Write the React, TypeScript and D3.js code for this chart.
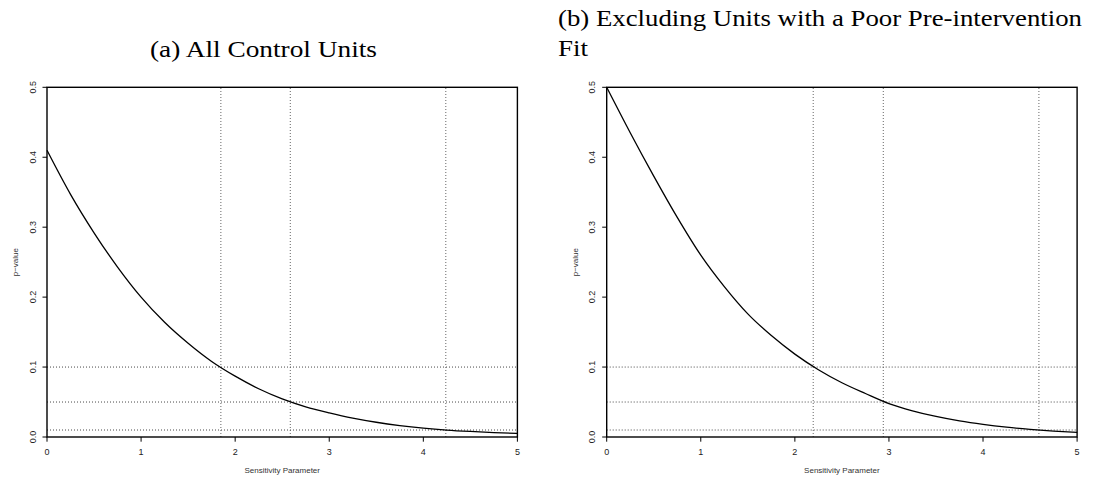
import * as d3 from "d3";

// sensitivity parameter grid
const gammaGrid = [0, 0.25, 0.5, 0.75, 1, 1.25, 1.5, 1.75, 2, 2.25, 2.5, 2.75, 3, 3.25, 3.5, 3.75, 4, 4.25, 4.5, 4.75, 5];

// (a) all control units
const pAll = [0.41, 0.347, 0.292, 0.243, 0.2, 0.164, 0.134, 0.108, 0.087, 0.069, 0.0545, 0.0432, 0.0345, 0.027, 0.0211, 0.0164, 0.0127, 0.0099, 0.0079, 0.0063, 0.005];
// (b) excluding units with a poor pre-intervention fit
const pExcl = [0.5, 0.435, 0.373, 0.314, 0.26, 0.215, 0.176, 0.145, 0.1185, 0.0962, 0.0776, 0.0622, 0.0478, 0.0375, 0.0294, 0.023, 0.018, 0.014, 0.0109, 0.0084, 0.0065];

// significance levels and the parameter where each is crossed
const alphaLevels = [0.1, 0.05, 0.01];
const crossAll = [1.848, 2.586, 4.239];
const crossExcl = [2.195, 2.94, 4.594];

const xTicks = [0, 1, 2, 3, 4, 5];
const yTicks = [0, 0.1, 0.2, 0.3, 0.4, 0.5];

const sans = "'Liberation Sans', Arial, sans-serif";
const serif = "'Liberation Serif', 'Times New Roman', serif";

type PanelProps = { left: number; values: number[]; cross: number[] };

function Panel({ left, values, cross }: PanelProps) {
  const x = d3.scaleLinear().domain([0, 5]).range([left, left + 470.4]);
  const y = d3.scaleLinear().domain([0, 0.5]).range([437, 87.3]);
  const pts = gammaGrid.map((g, i) => [g, values[i]] as [number, number]);
  const line = d3
    .line<[number, number]>()
    .x((d) => x(d[0]))
    .y((d) => y(d[1]))
    .curve(d3.curveMonotoneX);
  const [x0, x1] = x.range();
  const [y0, y1] = y.range();

  return (
    <g>
      {alphaLevels.map((a) => (
        <line key={"h" + a} x1={x0} x2={x1} y1={y(a)} y2={y(a)} stroke="#333" strokeWidth={0.9} strokeDasharray="1 2" />
      ))}
      {cross.map((c) => (
        <line key={"v" + c} x1={x(c)} x2={x(c)} y1={y0} y2={y1} stroke="#555" strokeWidth={0.9} strokeDasharray="1 2" />
      ))}
      <path d={line(pts) ?? ""} fill="none" stroke="#000" strokeWidth={1.3} />
      <rect x={x0} y={y1} width={x1 - x0} height={y0 - y1} fill="none" stroke="#000" strokeWidth={1.4} />
      {xTicks.map((t) => (
        <g key={"xt" + t}>
          <line x1={x(t)} x2={x(t)} y1={y0} y2={y0 + 4.7} stroke="#000" strokeWidth={1} />
          <text x={x(t)} y={y0 + 18} fontSize={9} fontFamily={sans} textAnchor="middle" fill="#222">
            {t}
          </text>
        </g>
      ))}
      {yTicks.map((t) => (
        <g key={"yt" + t}>
          <line x1={x0} x2={x0 - 4.5} y1={y(t)} y2={y(t)} stroke="#000" strokeWidth={1} />
          <text
            transform={`translate(${x0 - 11.5},${y(t)}) rotate(-90)`}
            fontSize={9}
            fontFamily={sans}
            textAnchor="middle"
            fill="#222"
          >
            {t.toFixed(1)}
          </text>
        </g>
      ))}
      <text x={(x0 + x1) / 2} y={473} fontSize={8} fontFamily={sans} textAnchor="middle" fill="#333">
        Sensitivity Parameter
      </text>
      <text
        transform={`translate(${x0 - 29},${(y0 + y1) / 2}) rotate(-90)`}
        fontSize={8}
        fontFamily={sans}
        textAnchor="middle"
        fill="#333"
      >
        p−value
      </text>
    </g>
  );
}

export default function App() {
  return (
    <svg width={1094} height={481} style={{ position: "absolute", left: 0, top: 0, background: "#fff" }}>
      <Panel left={47} values={pAll} cross={crossAll} />
      <Panel left={606.7} values={pExcl} cross={crossExcl} />
      <text x={150} y={57} fontSize={23} fontFamily={serif} textLength={227} lengthAdjust="spacingAndGlyphs">
        (a) All Control Units
      </text>
      <text x={558} y={26} fontSize={23} fontFamily={serif} textLength={524} lengthAdjust="spacingAndGlyphs">
        (b) Excluding Units with a Poor Pre-intervention
      </text>
      <text x={558} y={56} fontSize={23} fontFamily={serif} textLength={30} lengthAdjust="spacingAndGlyphs">
        Fit
      </text>
    </svg>
  );
}
